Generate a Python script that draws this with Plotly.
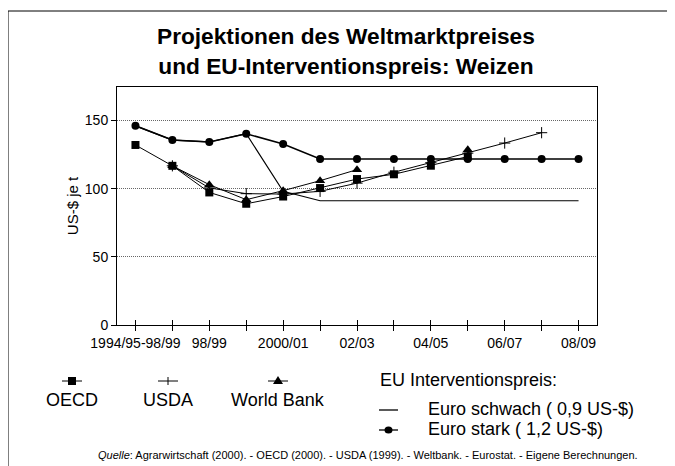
import plotly.graph_objects as go

# ---------------- data ----------------
categories = ["1994/95-98/99", "97/98", "98/99", "99/00", "2000/01", "01/02", "02/03",
              "03/04", "04/05", "05/06", "06/07", "07/08", "08/09"]
tick_labels = ["1994/95-98/99", "", "98/99", "", "2000/01", "", "02/03",
               "", "04/05", "", "06/07", "", "08/09"]

oecd = [132, 116.7, 97.2, 88.9, 94.2, 100.4, 107, 110.5, 116.8, 123.5, None, None, None]
usda = [None, 116.7, 100.5, 96.3, 96, 98, 104, 112, 119, 126, 133.4, 141, None]
world_bank = [None, 116.7, 102.9, 91.9, 98.5, 105.8, 113.9, None, None, 128.5, None, None, None]
euro_schwach = [146, 135.6, 134.2, 140.2, 98, 91.1, 91.1, 91.1, 91.1, 91.1, 91.1, 91.1, 91.1]
euro_stark = [146, 135.6, 134.2, 140.2, 132.7, 121.7, 121.7, 121.7, 121.7, 121.7, 121.7, 121.7, 121.7]

y_ticks = [0, 50, 100, 150]

# ---------------- geometry helpers (screen pixel -> paper) ----------------
OFF = 8  # page body margin
W, H = 675 - OFF, 466 - OFF
L, R, T, B = 117 - OFF, 597 - OFF, 87 - OFF, 325 - OFF


def pxx(x):
    return (x - OFF - L) / (R - L)


def pxy(y):
    return (B - (y - OFF)) / (B - T)


FONT = "Liberation Sans, Arial, sans-serif"

fig = go.Figure()

line_black = dict(color="black", width=1)

fig.add_trace(go.Scatter(x=categories, y=euro_schwach, mode="lines",
                         line=dict(color="black", width=1.2), name="Euro schwach",
                         showlegend=False, hoverinfo="skip"))
fig.add_trace(go.Scatter(x=categories, y=euro_stark, mode="lines+markers",
                         line=dict(color="black", width=1.6),
                         marker=dict(symbol="circle", size=8, color="black"),
                         name="Euro stark", showlegend=False))
fig.add_trace(go.Scatter(x=categories, y=usda, mode="lines+markers", line=line_black,
                         marker=dict(symbol="cross-thin", size=8,
                                     line=dict(color="black", width=1)),
                         name="USDA", showlegend=False, connectgaps=False))
fig.add_trace(go.Scatter(x=categories, y=world_bank, mode="lines+markers", line=line_black,
                         marker=dict(symbol="triangle-up", size=9, color="black"),
                         name="World Bank", showlegend=False, connectgaps=False))
fig.add_trace(go.Scatter(x=categories, y=oecd, mode="lines+markers", line=line_black,
                         marker=dict(symbol="square", size=8, color="black"),
                         name="OECD", showlegend=False, connectgaps=False))
# invisible trace to carry the overlay axis with inside ticks
fig.add_trace(go.Scatter(x=list(range(len(categories))), y=euro_stark, xaxis="x2",
                         mode="lines", opacity=0, showlegend=False, hoverinfo="skip"))

fig.update_layout(
    width=W, height=H,
    margin=dict(l=L, r=W - R, t=T, b=H - B, pad=0),
    paper_bgcolor="white", plot_bgcolor="white",
    font=dict(family=FONT, color="black", size=14),
    showlegend=False,
    xaxis=dict(type="category", categoryorder="array", categoryarray=categories,
               range=[-0.5, len(categories) - 0.5],
               tickmode="array", tickvals=categories, ticktext=tick_labels,
               ticks="outside", ticklen=5, tickwidth=1, tickcolor="black",
               showline=True, linecolor="black", linewidth=1, mirror=True,
               showgrid=False, zeroline=False, tickangle=0,
               tickfont=dict(size=14, family=FONT)),
    xaxis2=dict(overlaying="x", anchor="y", side="bottom",
                range=[-0.5, len(categories) - 0.5],
                tickmode="array", tickvals=list(range(len(categories))),
                ticks="inside", ticklen=5, tickwidth=1, tickcolor="black",
                showticklabels=False, showgrid=False, zeroline=False, showline=False),
    yaxis=dict(range=[0, 174.5], tickmode="array", tickvals=y_ticks,
               ticks="outside", ticklen=5, tickwidth=1, tickcolor="black",
               showline=True, linecolor="black", linewidth=1, mirror=True,
               showgrid=True, gridcolor="#666666", gridwidth=1, griddash="1px,1px",
               zeroline=False,
               tickfont=dict(size=14, family=FONT),
               title=dict(text="US-$ je t", font=dict(size=15, family=FONT), standoff=2)),
)

shapes = []
annotations = []

# outer frame (partially cropped)
shapes.append(dict(type="rect", xref="paper", yref="paper",
                   x0=pxx(8), x1=pxx(700), y0=pxy(490), y1=pxy(11),
                   line=dict(color="black", width=1), fillcolor="rgba(0,0,0,0)", layer="below"))

# title
annotations.append(dict(text="<b>Projektionen des Weltmarktpreises<br>und EU-Interventionspreis: Weizen</b>",
                        xref="paper", yref="paper", x=pxx(346), y=pxy(21),
                        xanchor="center", yanchor="top", showarrow=False, align="center",
                        font=dict(size=22.7, family=FONT)))

# ----- legend: forecasting institutes -----
leg_y = 381
for cx, label, sym in [(72, "OECD", "square"), (168, "USDA", "plus"), (278, "World Bank", "tri")]:
    shapes.append(dict(type="line", xref="paper", yref="paper",
                       x0=pxx(cx - 10), x1=pxx(cx + 10), y0=pxy(leg_y), y1=pxy(leg_y),
                       line=dict(color="black", width=1)))
    if sym == "square":
        shapes.append(dict(type="rect", xref="paper", yref="paper",
                           x0=pxx(cx - 4), x1=pxx(cx + 4), y0=pxy(leg_y + 4), y1=pxy(leg_y - 4),
                           fillcolor="black", line=dict(color="black", width=0)))
    elif sym == "plus":
        shapes.append(dict(type="line", xref="paper", yref="paper",
                           x0=pxx(cx), x1=pxx(cx), y0=pxy(leg_y + 4), y1=pxy(leg_y - 4),
                           line=dict(color="black", width=1)))
    else:
        path = "M {} {} L {} {} L {} {} Z".format(pxx(cx - 5), pxy(leg_y + 3), pxx(cx + 5), pxy(leg_y + 3),
                                                 pxx(cx), pxy(leg_y - 5))
        shapes.append(dict(type="path", xref="paper", yref="paper", path=path,
                           fillcolor="black", line=dict(color="black", width=0)))
    annotations.append(dict(text=label, xref="paper", yref="paper", x=pxx(cx), y=pxy(400),
                            xanchor="center", yanchor="middle", showarrow=False,
                            font=dict(size=18, family=FONT)))

# ----- legend: EU intervention price -----
annotations.append(dict(text="EU Interventionspreis:", xref="paper", yref="paper",
                        x=pxx(378), y=pxy(380), xanchor="left", yanchor="middle",
                        showarrow=False, font=dict(size=18, family=FONT)))
for yy, label, marker in [(410, "Euro schwach ( 0,9 US-$)", False), (430, "Euro stark ( 1,2 US-$)", True)]:
    shapes.append(dict(type="line", xref="paper", yref="paper",
                       x0=pxx(379), x1=pxx(398), y0=pxy(yy), y1=pxy(yy),
                       line=dict(color="black", width=1.3)))
    if marker:
        shapes.append(dict(type="circle", xref="paper", yref="paper",
                           x0=pxx(384.5), x1=pxx(392.5), y0=pxy(yy + 3.5), y1=pxy(yy - 3.5),
                           fillcolor="black", line=dict(color="black", width=0)))
    annotations.append(dict(text=label, xref="paper", yref="paper", x=pxx(426), y=pxy(yy - 1),
                            xanchor="left", yanchor="middle", showarrow=False,
                            font=dict(size=18, family=FONT)))

# source line
annotations.append(dict(text="<i>Quelle</i>: Agrarwirtschaft (2000). - OECD (2000). - USDA (1999). - Weltbank. - Eurostat. - Eigene Berechnungen.",
                        xref="paper", yref="paper", x=pxx(368), y=pxy(455),
                        xanchor="center", yanchor="middle", showarrow=False,
                        font=dict(size=11, family=FONT)))

fig.update_layout(shapes=shapes, annotations=annotations)

fig.write_html("out.html")
